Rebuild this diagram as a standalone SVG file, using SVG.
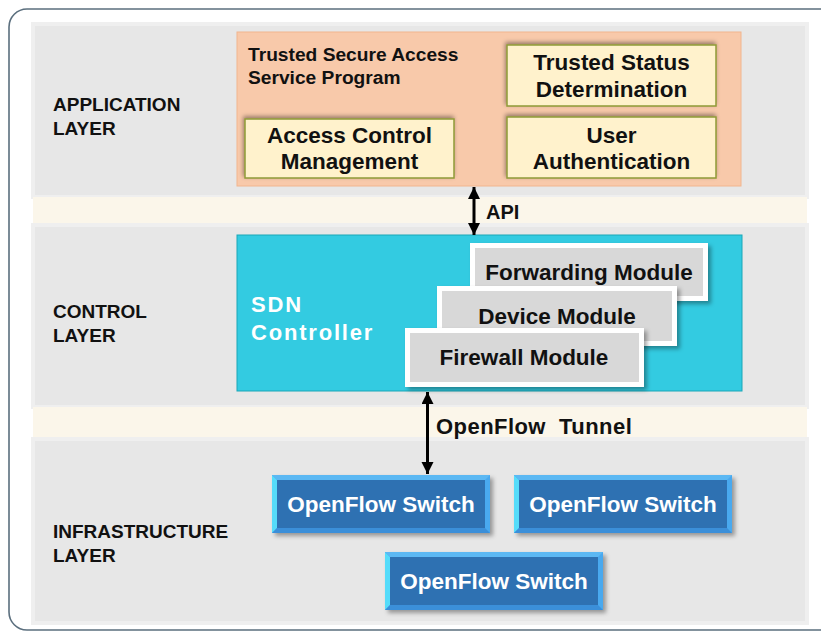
<svg xmlns="http://www.w3.org/2000/svg" xmlns:xlink="http://www.w3.org/1999/xlink" width="821" height="633" viewBox="0 0 821 633">
  <style>
    text { font-family: "Liberation Sans", Arial, sans-serif; font-weight: bold; }
    .layer-label { font-size: 19px; fill: #111; }
    .band { fill: #e7e7e7; stroke: #efefef; stroke-width: 4; }
    .gap { fill: #fbf6ea; }
    .app-box { fill: #fff2cc; stroke: #8f9a36; stroke-width: 1.5; }
    .app-text { font-size: 22.5px; fill: #111; text-anchor: middle; }
    .module { fill: #d8d8d8; stroke: #ffffff; stroke-width: 5; }
    .module-text { font-size: 22.5px; fill: #111; text-anchor: middle; }
    .switch-text { font-size: 22.5px; fill: #ffffff; text-anchor: middle; }
    .link { stroke: #000; stroke-width: 3; fill: none; }
  </style>
  <defs>
    <filter id="shadow" x="-10%" y="-20%" width="130%" height="150%">
      <feDropShadow dx="3" dy="3" stdDeviation="2" flood-color="#000" flood-opacity="0.35"/>
    </filter>
    <filter id="shadow-up" x="-10%" y="-20%" width="130%" height="150%">
      <feDropShadow dx="-1" dy="-2" stdDeviation="2" flood-color="#000" flood-opacity="0.4"/>
    </filter>
    <marker id="head" markerUnits="userSpaceOnUse" markerWidth="14" markerHeight="14" refX="12" refY="6" orient="auto-start-reverse">
      <path d="M0,0 L12,6 L0,12 z" fill="#000"/>
    </marker>
    <!-- bevelled blue switch body, 218 x 58 -->
    <symbol id="switch-body" viewBox="0 0 218 58" width="218" height="58">
      <rect x="0" y="0" width="218" height="58" fill="#4aa9ef"/>
      <polygon points="0,0 5,5 5,53 0,58" fill="#55dcfa"/>
      <polygon points="0,58 5,53 213,53 218,58" fill="#3a8fd9"/>
      <polygon points="0,0 218,0 213,5 5,5" fill="#5cb8f3"/>
      <rect x="5" y="5" width="208" height="48" fill="#2e71b2"/>
    </symbol>
  </defs>

  <!-- outer frame -->
  <rect x="9" y="9" width="840" height="621" rx="18" ry="18" fill="#ffffff" stroke="#5b6f7e" stroke-width="1.6"/>

  <!-- layer bands -->
  <rect class="band" x="33" y="24" width="774" height="173"/>
  <rect class="gap" x="33" y="197" width="774" height="28"/>
  <rect class="band" x="33" y="225" width="774" height="182"/>
  <rect class="gap" x="33" y="407" width="774" height="32"/>
  <rect class="band" x="33" y="439" width="774" height="184"/>

  <!-- layer labels -->
  <g id="application-layer-label">
    <text class="layer-label" x="53" y="111">APPLICATION</text>
    <text class="layer-label" x="53" y="135">LAYER</text>
  </g>
  <g id="control-layer-label">
    <text class="layer-label" x="53" y="318">CONTROL</text>
    <text class="layer-label" x="53" y="342">LAYER</text>
  </g>
  <g id="infrastructure-layer-label">
    <text class="layer-label" x="53" y="538">INFRASTRUCTURE</text>
    <text class="layer-label" x="53" y="562">LAYER</text>
  </g>

  <!-- application layer -->
  <g id="trusted-secure-access">
    <rect x="237" y="32" width="504" height="154" fill="#f8c9aa" stroke="#f2b58e" stroke-width="1"/>
    <text x="248" y="61" font-size="19.2px" fill="#111">Trusted Secure Access</text>
    <text x="248" y="84" font-size="19.2px" fill="#111">Service Program</text>
  </g>
  <g id="access-control-management">
    <rect class="app-box" x="245" y="119" width="209" height="59" filter="url(#shadow-up)"/>
    <text class="app-text" x="349.5" y="143">Access Control</text>
    <text class="app-text" x="349.5" y="169">Management</text>
  </g>
  <g id="trusted-status-determination">
    <rect class="app-box" x="507" y="45" width="209" height="61" filter="url(#shadow-up)"/>
    <text class="app-text" x="611.5" y="70">Trusted Status</text>
    <text class="app-text" x="611.5" y="97">Determination</text>
  </g>
  <g id="user-authentication">
    <rect class="app-box" x="507" y="117" width="209" height="61" filter="url(#shadow-up)"/>
    <text class="app-text" x="611.5" y="143">User</text>
    <text class="app-text" x="611.5" y="169">Authentication</text>
  </g>

  <!-- control layer -->
  <g id="sdn-controller">
    <rect x="237" y="235" width="505" height="156" fill="#33cbe1" stroke="#1aa7b8" stroke-width="1"/>
    <text x="251" y="312" font-size="22px" letter-spacing="1.8" fill="#ffffff">SDN</text>
    <text x="251" y="340" font-size="22px" letter-spacing="1.8" fill="#ffffff">Controller</text>
  </g>
  <g id="forwarding-module">
    <rect class="module" x="472.5" y="245.5" width="233" height="53" filter="url(#shadow)"/>
    <text class="module-text" x="589" y="280">Forwarding Module</text>
  </g>
  <g id="device-module">
    <rect class="module" x="439.5" y="288.5" width="235" height="55" filter="url(#shadow)"/>
    <text class="module-text" x="557" y="324">Device Module</text>
  </g>
  <g id="firewall-module">
    <rect class="module" x="407.5" y="330.5" width="234" height="54" filter="url(#shadow)"/>
    <text class="module-text" x="524" y="365">Firewall Module</text>
  </g>

  <!-- infrastructure layer -->
  <g id="switch-1">
    <use xlink:href="#switch-body" href="#switch-body" x="272" y="475" filter="url(#shadow)"/>
    <text class="switch-text" x="381" y="512">OpenFlow Switch</text>
  </g>
  <g id="switch-2">
    <use xlink:href="#switch-body" href="#switch-body" x="514" y="475" filter="url(#shadow)"/>
    <text class="switch-text" x="623" y="512">OpenFlow Switch</text>
  </g>
  <g id="switch-3">
    <use xlink:href="#switch-body" href="#switch-body" x="385" y="552" filter="url(#shadow)"/>
    <text class="switch-text" x="494" y="589">OpenFlow Switch</text>
  </g>

  <!-- connectors -->
  <g id="connectors">
    <line class="link" x1="474" y1="187" x2="474" y2="235" marker-start="url(#head)" marker-end="url(#head)"/>
    <text x="486" y="219" font-size="20px" fill="#111">API</text>
    <line class="link" x1="427.5" y1="392" x2="427.5" y2="474" marker-start="url(#head)" marker-end="url(#head)"/>
    <text x="436" y="434" font-size="22px" letter-spacing="0.45" fill="#111" xml:space="preserve">OpenFlow  Tunnel</text>
  </g>
</svg>
